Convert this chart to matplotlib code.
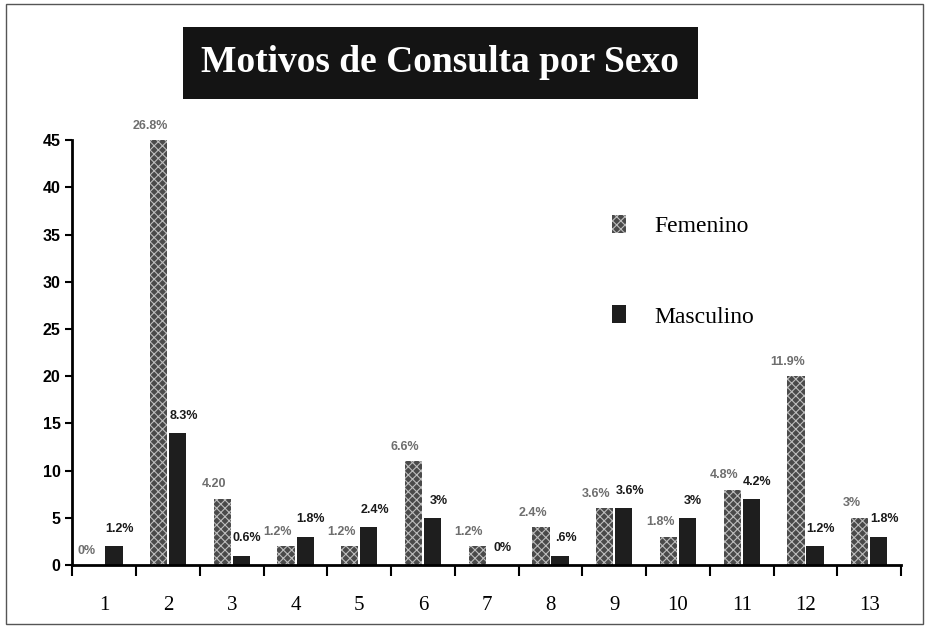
import numpy as np
import matplotlib
matplotlib.use("Agg")
import matplotlib.pyplot as plt
from matplotlib.patches import Rectangle, Patch

categories = ["1", "2", "3", "4", "5", "6", "7", "8", "9", "10", "11", "12", "13"]
femenino = [0, 45, 7, 2, 2, 11, 2, 4, 6, 3, 8, 20, 5]
masculino = [2, 14, 1, 3, 4, 5, 0, 1, 6, 5, 7, 2, 3]
fem_labels = ["0%", "26.8%", "4.20", "1.2%", "1.2%", "6.6%", "1.2%",
              "2.4%", "3.6%", "1.8%", "4.8%", "11.9%", "3%"]
mas_labels = ["1.2%", "8.3%", "0.6%", "1.8%", "2.4%", "3%", "0%",
              ".6%", "3.6%", "3%", "4.2%", "1.2%", "1.8%"]

plt.rcParams["hatch.linewidth"] = 0.8
plt.rcParams["hatch.color"] = "#bdbdbd"

fig = plt.figure(figsize=(9.29, 6.29), dpi=100)
ax = fig.add_axes([0.078, 0.1017, 0.892, 0.6753])

x = np.arange(1, len(categories) + 1)
w = 0.27
ax.bar(x - 0.15, femenino, w, facecolor="#4a4a4a", hatch="xxxx",
       edgecolor="#bdbdbd", linewidth=0)
ax.bar(x + 0.15, masculino, w, color="#1e1e1e")

# value labels, female a bit to the left, male a bit to the right
for xi, v, lab in zip(x, femenino, fem_labels):
    ax.text(xi - 0.28, v + 0.9, lab, ha="center", va="bottom",
            fontsize=9, fontweight="bold", color="#6e6e6e",
            family="Liberation Sans")
for xi, v, lab in zip(x, masculino, mas_labels):
    ax.text(xi + 0.24, v + 1.2, lab, ha="center", va="bottom",
            fontsize=9, fontweight="bold", color="#1a1a1a",
            family="Liberation Sans")

ax.set_xlim(0.5, 13.5)
ax.set_ylim(0, 45)
ax.set_yticks(range(0, 46, 5))
ax.set_xticks(np.arange(0.5, 14, 1))
ax.set_xticklabels([])
ax.set_xticks(x, minor=True)
ax.set_xticklabels(categories, minor=True, family="Liberation Serif", fontsize=15)
ax.tick_params(axis="x", which="major", direction="out", length=8, width=1.5)
ax.tick_params(axis="x", which="minor", length=0, pad=22)
ax.tick_params(axis="y", direction="out", length=5, width=1.5)
for t in ax.get_yticklabels():
    t.set_fontweight("bold")
    t.set_family("Liberation Sans")
    t.set_fontsize(11.5)
ax.spines["top"].set_visible(False)
ax.spines["right"].set_visible(False)
ax.spines["left"].set_linewidth(2)
ax.spines["bottom"].set_linewidth(2)

handles = [Patch(facecolor="#4a4a4a", hatch="xxxx", edgecolor="#bdbdbd", linewidth=0),
           Patch(facecolor="#1e1e1e")]
ax.legend(handles, ["Femenino", "Masculino"], loc="upper left",
          bbox_to_anchor=(0.625, 0.875), frameon=False, handlelength=0.6,
          handleheight=0.8, handletextpad=1.2, labelspacing=2.9,
          prop={"family": "Liberation Serif", "size": 17})

fig.text(0.474, 0.9, "Motivos de Consulta por Sexo", ha="center", va="center",
         color="white", fontsize=27, fontweight="bold", family="Liberation Serif",
         bbox=dict(boxstyle="square,pad=0.5", facecolor="#141414", edgecolor="none"))

fig.patches.append(Rectangle((0.006, 0.008), 0.988, 0.985, transform=fig.transFigure,
                             fill=False, edgecolor="#555555", linewidth=1))

fig.savefig("out.png", dpi=100)
